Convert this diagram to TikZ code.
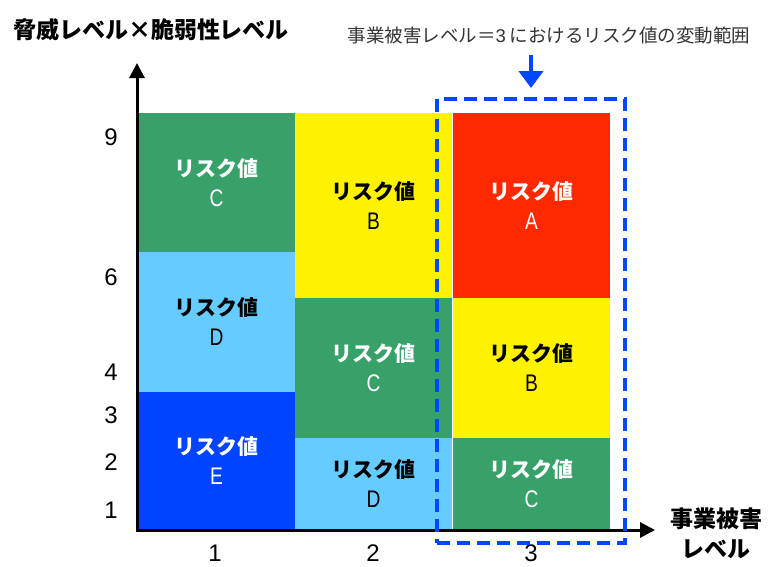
\documentclass[tikz,border=0pt]{standalone}
\usepackage{fontspec}
\setmainfont{Liberation Sans}
\newfontfamily\jp{Noto Sans CJK JP}
\usetikzlibrary{arrows.meta, positioning}
\definecolor{riskgreen}{RGB}{56, 161, 106}
\definecolor{riskyellow}{RGB}{255, 242, 0}
\definecolor{risklight}{RGB}{102, 204, 255}
\definecolor{riskblue}{RGB}{0, 68, 255}
\definecolor{riskred}{RGB}{255, 40, 0}
\definecolor{rangeblue}{RGB}{0, 72, 255}
\tikzset{
    cell/.style={rectangle, minimum width=157pt, inner sep=0pt, outer sep=0pt, anchor=north west, align=center, font=\jp\fontsize{21}{30}\selectfont},
    axis/.style={draw, -{Triangle[width=15pt, length=15pt]}, line width=3pt},
    tick/.style={font=\fontsize{24}{24}\selectfont},
    rangebox/.style={rectangle, draw=rangeblue, line width=4pt, dash pattern=on 13pt off 7pt, minimum width=188pt, minimum height=444pt, inner sep=0pt, outer sep=0pt, anchor=north west},
    pointer/.style={draw=rangeblue, line width=4pt, -{Triangle[width=24pt, length=17pt]}}
}
\newcommand{\riskcell}[1]{{\bfseries リスク値}\\{\rmfamily\fontsize{24}{30}\selectfont\scalebox{0.8}[1]{#1}}}

\begin{document}
\begin{tikzpicture}[x=1pt, y=-1pt]
    \useasboundingbox (0,0) rectangle (769,566);

    % Risk matrix cells (column, row from top)
    \node[cell, fill=riskgreen, text=white, minimum height=139pt] (c11) at (138,113) {\riskcell{C}};
    \node[cell, fill=risklight, minimum height=140pt] (c12) at (138,252) {\riskcell{D}};
    \node[cell, fill=riskblue, text=white, minimum height=138pt] (c13) at (138,392) {\riskcell{E}};
    \node[cell, fill=riskyellow, minimum height=185pt] (c21) at (295,113) {\riskcell{B}};
    \node[cell, fill=riskgreen, text=white, minimum height=140pt] (c22) at (295,298) {\riskcell{C}};
    \node[cell, fill=risklight, minimum height=92pt] (c23) at (295,438) {\riskcell{D}};
    \node[cell, fill=riskred, text=white, minimum height=185pt] (c31) at (453,113) {\riskcell{A}};
    \node[cell, fill=riskyellow, minimum height=140pt] (c32) at (453,298) {\riskcell{B}};
    \node[cell, fill=riskgreen, text=white, minimum height=92pt] (c33) at (453,438) {\riskcell{C}};

    % Axes
    \coordinate (origin) at (137,530);
    \coordinate (yend) at (137,63);
    \coordinate (xend) at (655,530);
    \draw[axis] (origin) -- (yend);
    \draw[axis] ([xshift=-1.5pt]origin) -- (xend);

    % Tick labels
    \foreach \lbl/\ypos in {9/137, 6/277, 4/372, 3/415, 2/462, 1/510}
        \node[tick] (ty\lbl) at (111,\ypos) {\lbl};
    \foreach \lbl/\xpos in {1/215, 2/373, 3/531}
        \node[tick] (tx\lbl) at (\xpos,553) {\lbl};

    % Axis titles
    \node[font=\jp\bfseries\fontsize{23}{23}\selectfont] (ytitle) at (151,30) {脅威レベル×脆弱性レベル};
    \node[font=\jp\bfseries\fontsize{23}{30}\selectfont, align=center] (xtitle) at (716,533) {事業被害\\レベル};

    % Range of level 3
    \node[rangebox] (range) at (437,99) {};
    \node[font=\jp\fontsize{18.5}{18.5}\selectfont, text=black!80] (caption) at (549,35) {事業被害レベル＝{\rmfamily 3} におけるリスク値の変動範囲};
    \draw[pointer, shorten <=8pt, shorten >=11pt] (caption.south -| range.north) -- (range.north);
\end{tikzpicture}
\end{document}
